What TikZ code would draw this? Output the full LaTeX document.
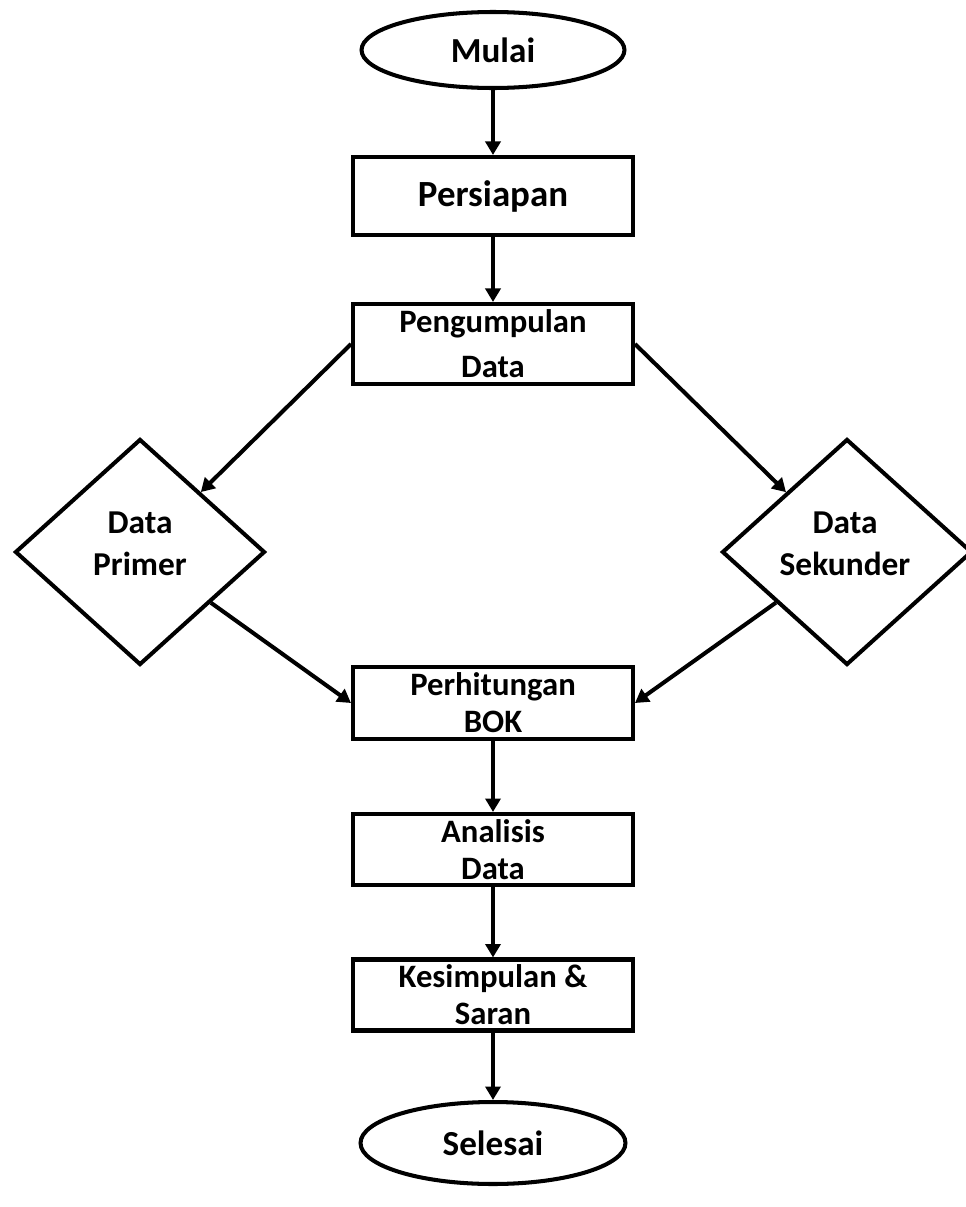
\documentclass[tikz,border=0pt]{standalone}
\usepackage{fontspec}
\setmainfont{Carlito}
\usetikzlibrary{shapes.geometric,arrows.meta}
\begin{document}
\begin{tikzpicture}[x=0.02cm,y=-0.02cm,
  lw/.style={line width=2.3pt},
  term/.style={ellipse,draw,lw,minimum width=5.26cm,minimum height=1.52cm,inner sep=0pt,font=\bfseries\fontsize{20}{24}\selectfont},
  proc/.style={rectangle,draw,lw,minimum width=5.6cm,inner sep=0pt,align=center,font=\bfseries\fontsize{18.6}{21}\selectfont},
  dec/.style={diamond,draw,lw,minimum width=5cm,minimum height=4.52cm,inner sep=0pt},
  dectext/.style={align=center,inner sep=0pt,font=\bfseries\fontsize{19}{24}\selectfont},
  arr/.style={lw,-{Triangle[length=0.27cm,width=0.3cm]}}
]
\useasboundingbox (0,0) rectangle (966,1207);
\node[term] (mulai) at (493,50) {Mulai};
\node[proc,minimum height=1.56cm,font=\bfseries\fontsize{21}{26}\selectfont] (persiapan) at (493,196) {Persiapan};
\node[proc,minimum height=1.6cm,font=\bfseries\fontsize{18.6}{25.6}\selectfont] (kumpul) at (493,344) {Pengumpulan\\Data};
\node[dec] (primer) at (140,552) {};
\node[dectext] (primertext) at (140,544) {Data\\Primer};
\node[dec] (sekunder) at (847,552) {};
\node[dectext] (sekundertext) at (845,544) {Data\\Sekunder};
\node[proc,minimum height=1.44cm] (hitung) at (493,703) {Perhitungan\\BOK};
\node[proc,minimum height=1.42cm] (analisis) at (493,849.5) {Analisis\\Data};
\node[proc,minimum height=1.42cm] (simpul) at (493,995) {Kesimpulan \&\\Saran};
\node[term,minimum width=5.3cm,minimum height=1.64cm] (selesai) at (493,1143) {Selesai};
\draw[arr] (mulai) -- (persiapan);
\draw[arr] (persiapan) -- (kumpul);
\draw[arr] (kumpul.west) -- (primer);
\draw[arr] (kumpul.east) -- (sekunder);
\draw[arr] (primer) -- (hitung.west);
\draw[arr] (sekunder) -- (hitung.east);
\draw[arr] (hitung) -- (analisis);
\draw[arr] (analisis) -- (simpul);
\draw[arr] (simpul) -- (selesai);
\end{tikzpicture}
\end{document}
